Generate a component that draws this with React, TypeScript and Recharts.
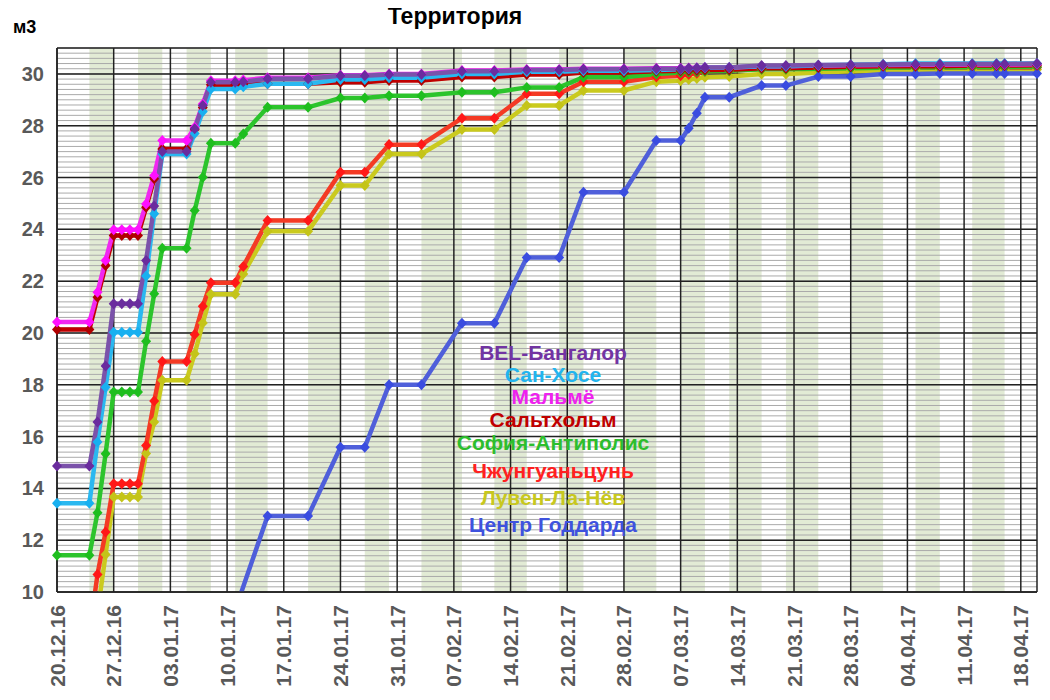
import React from 'react';
import { LineChart, Line, XAxis, YAxis, CartesianGrid, ReferenceArea } from 'recharts';

// days counted from 20.12.16
const days = [0, 4, 5, 6, 7, 8, 9, 10, 11, 12, 13, 16, 17, 18, 19, 22, 23, 26, 31, 35, 38, 41, 45, 50, 54, 58, 62, 65, 70, 74, 77, 78, 79, 80, 83, 87, 90, 94, 98, 102, 106, 109, 113, 116, 117, 121];

const bangalore = [14.86, 14.86, 16.56, 18.72, 21.13, 21.13, 21.13, 21.13, 22.8, 24.9, 27.0, 27.0, 27.88, 28.78, 29.68, 29.68, 29.7, 29.81, 29.81, 29.93, 29.93, 29.98, 29.98, 30.1, 30.1, 30.15, 30.15, 30.18, 30.18, 30.2, 30.2, 30.22, 30.23, 30.25, 30.25, 30.32, 30.32, 30.34, 30.35, 30.36, 30.37, 30.37, 30.38, 30.38, 30.38, 30.4];
const sanJose = [13.43, 13.43, 15.79, 17.9, 20.03, 20.03, 20.03, 20.03, 22.2, 24.6, 26.91, 26.91, 27.7, 28.55, 29.42, 29.42, 29.5, 29.62, 29.62, 29.78, 29.78, 29.85, 29.85, 30.0, 30.0, 30.08, 30.08, 30.12, 30.12, 30.15, 30.18, 30.2, 30.22, 30.24, 30.25, 30.3, 30.3, 30.33, 30.35, 30.37, 30.4, 30.4, 30.4, 30.4, 30.4, 30.4];
const malmo = [20.42, 20.42, 21.57, 22.8, 23.98, 23.98, 23.98, 23.98, 24.98, 26.08, 27.43, 27.43, 27.94, 28.84, 29.74, 29.74, 29.76, 29.85, 29.85, 29.95, 29.95, 30.0, 30.0, 30.13, 30.13, 30.17, 30.17, 30.2, 30.2, 30.22, 30.22, 30.23, 30.24, 30.25, 30.25, 30.3, 30.3, 30.32, 30.33, 30.34, 30.35, 30.35, 30.36, 30.36, 30.36, 30.37];
const saltholm = [20.13, 20.13, 21.38, 22.6, 23.76, 23.76, 23.76, 23.76, 24.85, 25.95, 27.1, 27.1, 27.85, 28.7, 29.58, 29.58, 29.6, 29.62, 29.62, 29.68, 29.68, 29.75, 29.75, 29.88, 29.88, 29.98, 29.98, 30.05, 30.05, 30.1, 30.12, 30.13, 30.14, 30.15, 30.16, 30.22, 30.22, 30.25, 30.28, 30.3, 30.3, 30.3, 30.32, 30.32, 30.32, 30.33];
const sophia = [11.42, 11.42, 13.06, 15.34, 17.72, 17.72, 17.72, 17.72, 19.68, 21.51, 23.27, 23.27, 24.73, 26.01, 27.32, 27.32, 27.68, 28.71, 28.71, 29.07, 29.07, 29.16, 29.16, 29.29, 29.29, 29.48, 29.48, 29.87, 29.87, 30.0, 30.05, 30.07, 30.08, 30.1, 30.12, 30.18, 30.18, 30.2, 30.22, 30.24, 30.25, 30.25, 30.26, 30.26, 30.26, 30.27];
const zhongguancun = [8.4, 8.4, 10.68, 12.32, 14.18, 14.18, 14.18, 14.18, 15.66, 17.37, 18.9, 18.9, 19.94, 21.03, 21.94, 21.94, 22.57, 24.34, 24.34, 26.2, 26.2, 27.27, 27.27, 28.29, 28.29, 29.23, 29.23, 29.7, 29.7, 29.88, 29.93, 29.98, 30.03, 30.1, 30.12, 30.19, 30.19, 30.22, 30.24, 30.25, 30.25, 30.25, 30.25, 30.25, 30.25, 30.25];
const louvain = [7.5, 7.5, 9.2, 11.45, 13.67, 13.67, 13.67, 13.67, 15.35, 16.56, 18.17, 18.17, 19.2, 20.38, 21.49, 21.49, 22.28, 23.93, 23.93, 25.69, 25.69, 26.91, 26.91, 27.85, 27.85, 28.78, 28.78, 29.36, 29.36, 29.7, 29.74, 29.78, 29.82, 29.87, 29.9, 30.0, 30.0, 30.05, 30.1, 30.12, 30.15, 30.15, 30.16, 30.16, 30.16, 30.17];
const goddard = [null, null, null, null, null, null, null, null, null, null, null, null, null, null, null, 9.3, null, 12.93, 12.93, 15.59, 15.59, 18.0, 18.0, 20.37, 20.37, 22.91, 22.91, 25.43, 25.43, 27.43, 27.43, 27.9, 28.48, 29.1, 29.1, 29.55, 29.55, 29.9, 29.9, 30.0, 30.0, 30.02, 30.02, 30.02, 30.02, 30.02];

// shaded periods (day ranges)
const bandStart = [4, 10, 16, 22, 31, 38, 45, 54, 62, 70, 77, 83, 90, 98, 106, 113];
const bandEnd = [7, 13, 19, 26, 35, 41, 50, 58, 65, 74, 80, 87, 94, 102, 109, 117];

const weekTicks = [0, 7, 14, 21, 28, 35, 42, 49, 56, 63, 70, 77, 84, 91, 98, 105, 112, 119];
const tickLabels = ['20.12.16', '27.12.16', '03.01.17', '10.01.17', '17.01.17', '24.01.17', '31.01.17', '07.02.17', '14.02.17', '21.02.17', '28.02.17', '07.03.17', '14.03.17', '21.03.17', '28.03.17', '04.04.17', '11.04.17', '18.04.17'];
const yTicks = [10, 12, 14, 16, 18, 20, 22, 24, 26, 28, 30];

const legendNames = ['BEL-Бангалор', 'Сан-Хосе', 'Мальмё', 'Сальтхольм', 'София-Антиполис', 'Чжунгуаньцунь', 'Лувен-Ла-Нёв', 'Центр Годдарда'];
const legendColors = ['#7234A3', '#22B4EE', '#EE22EE', '#C00000', '#2DBE2D', '#FF2020', '#C8C81E', '#3E52DE'];

// drawing order: last one ends on top
const series = [
  { key: 'louvain', color: '#CACA1E', dotColor: '#C4C418', values: louvain },
  { key: 'zhongguancun', color: '#F43A24', dotColor: '#FF1818', values: zhongguancun },
  { key: 'sophia', color: '#2CC42C', dotColor: '#1EBE1E', values: sophia },
  { key: 'goddard', color: '#4F5FDA', dotColor: '#3A4CE0', values: goddard },
  { key: 'saltholm', color: '#C00000', dotColor: '#B00000', values: saltholm },
  { key: 'malmo', color: '#F028F0', dotColor: '#FF10FF', values: malmo },
  { key: 'sanJose', color: '#2AB8F0', dotColor: '#18B0F0', values: sanJose },
  { key: 'bangalore', color: '#7B52AA', dotColor: '#6A2C9E', values: bangalore },
];

const chartData = days.map((d, i) => {
  const row: any = { day: d };
  series.forEach((s) => {
    row[s.key] = s.values[i];
  });
  return row;
});

const minorLines: number[] = [];
for (let v = 10; v <= 31.001; v += 0.2) minorLines.push(Math.round(v * 10) / 10);
const majorLines = [...yTicks, 31];
const verticalLines = [...weekTicks, 121];

const FONT = 'Liberation Sans, Arial, sans-serif';
const legendTops = [335, 357, 379, 402, 425, 453, 480, 507];

const DateTick = (props: any) => {
  const { x, y, payload } = props;
  const idx = weekTicks.indexOf(payload.value);
  return (
    <text
      x={0}
      y={0}
      transform={`translate(${x},${y + 13}) rotate(-90)`}
      textAnchor="end"
      dominantBaseline="central"
      fontSize={21}
      fontWeight="bold"
      fill="#595959"
      fontFamily={FONT}
    >
      {tickLabels[idx]}
    </text>
  );
};

const makeDot = (color: string) => (props: any) => {
  const { cx, cy, index } = props;
  if (cx == null || cy == null || isNaN(cx) || isNaN(cy)) return <g key={index} />;
  return (
    <path
      key={index}
      d={`M${cx},${cy - 5.5}L${cx + 5},${cy}L${cx},${cy + 5.5}L${cx - 5},${cy}Z`}
      fill={color}
    />
  );
};

export default function App() {
  return (
    <div style={{ position: 'relative', width: 1040, height: 690, fontFamily: FONT }}>
      <div
        style={{
          position: 'absolute',
          left: 0,
          top: -3,
          width: 894,
          textAlign: 'center',
          fontSize: 23,
          lineHeight: '23px',
          fontWeight: 'bold',
          color: '#000',
        }}
      >
        Территория
      </div>
      <div
        style={{
          position: 'absolute',
          left: 5,
          top: 10,
          fontSize: 18,
          lineHeight: '18px',
          fontWeight: 'bold',
          color: '#000',
        }}
      >
        м3
      </div>

      <LineChart width={1040} height={690} data={chartData} margin={{ top: 40, right: 11, left: 0, bottom: 0 }}>
        {bandStart.map((s, i) => (
          <ReferenceArea
            key={'band' + i}
            x1={s}
            x2={bandEnd[i]}
            y1={10}
            y2={31}
            fill="#e2ebd5"
            fillOpacity={1}
            stroke="none"
            ifOverflow="hidden"
            zIndex={-150}
          />
        ))}
        <CartesianGrid vertical={false} horizontalValues={minorLines} stroke="#aaaaaa" strokeWidth={1} />
        <CartesianGrid horizontalValues={majorLines} verticalValues={verticalLines} stroke="#222" strokeWidth={1.5} />
        <XAxis
          dataKey="day"
          type="number"
          domain={[0, 121]}
          ticks={weekTicks}
          interval={0}
          height={106}
          tickSize={0}
          tickMargin={0}
          tick={<DateTick />}
          axisLine={{ stroke: '#222', strokeWidth: 1.5 }}
        />
        <YAxis
          type="number"
          domain={[10, 31]}
          ticks={yTicks}
          allowDataOverflow
          width={49}
          tickSize={0}
          tickMargin={13}
          interval={0}
          axisLine={{ stroke: '#222', strokeWidth: 1.5 }}
          tick={{ fontSize: 20, fontWeight: 'bold', fill: '#595959', fontFamily: FONT }}
        />
        {series.map((s) => (
          <Line
            key={s.key}
            type="linear"
            dataKey={s.key}
            stroke={s.color}
            strokeWidth={4.5}
            dot={makeDot(s.dotColor)}
            activeDot={false}
            connectNulls
            isAnimationActive={false}
          />
        ))}
      </LineChart>

      {legendNames.map((name, i) => (
        <div
          key={name}
          style={{
            position: 'absolute',
            left: 395,
            width: 300,
            top: legendTops[i],
            textAlign: 'center',
            fontSize: 21,
            lineHeight: '20px',
            fontWeight: 'bold',
            color: legendColors[i],
            whiteSpace: 'nowrap',
          }}
        >
          {name}
        </div>
      ))}
    </div>
  );
}
